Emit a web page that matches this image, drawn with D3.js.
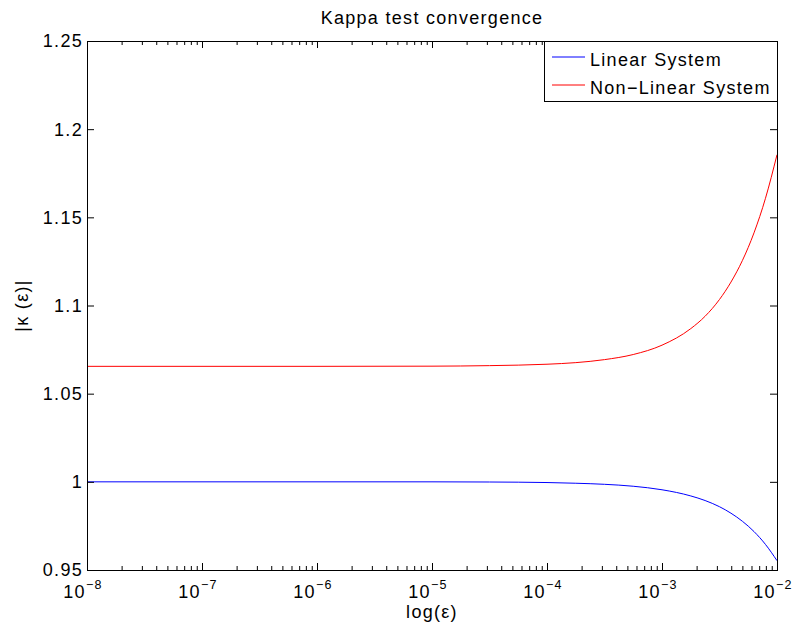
<!DOCTYPE html>
<html>
<head>
<meta charset="utf-8">
<script src="https://cdn.jsdelivr.net/npm/d3@7"></script>
<style>
  html, body { margin: 0; padding: 0; background: #fff; }
  svg { display: block; }
  text { font-family: "Liberation Sans", Arial, Helvetica, sans-serif; fill: #000; }
</style>
</head>
<body>
<svg id="chart" width="800" height="629"></svg>
<script>
// Step sizes used in the kappa test
const epsilon = [1e-8, 1e-7, 1e-6, 1e-5, 3.16e-5, 1e-4, 1.78e-4, 3.16e-4, 5.62e-4,
                 1e-3, 1.78e-3, 2.37e-3, 3.16e-3, 3.98e-3, 5.01e-3, 6.31e-3, 7.94e-3, 1e-2];

// |kappa(eps)| for each system
const kappaLinear = [1.0000, 1.0000, 1.0000, 1.0000, 0.9999, 0.9996, 0.9992, 0.9986, 0.9975,
                     0.9955, 0.9920, 0.9894, 0.9859, 0.9822, 0.9776, 0.9718, 0.9645, 0.9553];
const kappaNonLinear = [1.0655, 1.0655, 1.0655, 1.0656, 1.0659, 1.0667, 1.0676, 1.0693, 1.0722,
                        1.0775, 1.0869, 1.0939, 1.1034, 1.1133, 1.1256, 1.1412, 1.1608, 1.1855];

const seriesNames = ["Linear System", "Non\u2212Linear System"];
const seriesColors = ["#0000ff", "#ff0000"];

const yTicks = [0.95, 1, 1.05, 1.1, 1.15, 1.2, 1.25];
const yTickLabels = ["0.95", "1", "1.05", "1.1", "1.15", "1.2", "1.25"];
const xExponents = [-8, -7, -6, -5, -4, -3, -2];

const titleText = "Kappa test convergence";
const xLabelText = "log(\u03b5)";
const yLabelText = "|\u03ba (\u03b5)|";

// Layout
const W = 800, H = 629;
const margin = { left: 87, top: 41, right: 23, bottom: 59 };
const innerW = W - margin.left - margin.right;
const innerH = H - margin.top - margin.bottom;
const FONT = 18, LS = "1.3px";

const svg = d3.select("#chart");

const x = d3.scaleLog().domain([1e-8, 1e-2]).range([0, innerW]);
const y = d3.scaleLinear().domain([0.95, 1.25]).range([innerH, 0]);

const g = svg.append("g").attr("transform", `translate(${margin.left},${margin.top})`);

// Plot background
g.append("rect").attr("width", innerW).attr("height", innerH).attr("fill", "#fff");

// Data lines
const series = [kappaLinear, kappaNonLinear];
const line = d3.line()
  .x(d => x(d[0]))
  .y(d => y(d[1]))
  .curve(d3.curveMonotoneX);

series.forEach((vals, i) => {
  g.append("path")
    .datum(epsilon.map((e, j) => [e, vals[j]]))
    .attr("fill", "none")
    .attr("stroke", seriesColors[i])
    .attr("stroke-width", 1)
    .attr("d", line);
});

// Tick positions
const majorX = xExponents.map(k => Math.pow(10, k));
const minorX = [];
for (let k = -8; k < -2; k++) {
  for (let m = 2; m <= 9; m++) minorX.push(m * Math.pow(10, k));
}

function styleAxis(sel) {
  sel.select(".domain").remove();
  sel.selectAll(".tick line").attr("stroke", "#000");
}

// Inward ticks on all four sides
g.append("g").attr("transform", `translate(0,${innerH})`)
  .call(d3.axisBottom(x).tickValues(minorX).tickSize(-4).tickFormat(""))
  .call(styleAxis);
g.append("g").attr("transform", `translate(0,${innerH})`)
  .call(d3.axisBottom(x).tickValues(majorX).tickSize(-7).tickFormat(""))
  .call(styleAxis);
g.append("g")
  .call(d3.axisTop(x).tickValues(minorX).tickSize(-4).tickFormat(""))
  .call(styleAxis);
g.append("g")
  .call(d3.axisTop(x).tickValues(majorX).tickSize(-7).tickFormat(""))
  .call(styleAxis);

const yAxis = g.append("g")
  .call(d3.axisLeft(y).tickValues(yTicks).tickSize(-7).tickPadding(4)
    .tickFormat((d, i) => yTickLabels[i]))
  .call(styleAxis);
yAxis.selectAll(".tick text")
  .attr("font-size", FONT)
  .attr("letter-spacing", LS)
  .attr("font-family", "Liberation Sans, Arial, sans-serif")
  .attr("fill", "#000")
  .attr("dy", "0.33em");

g.append("g").attr("transform", `translate(${innerW},0)`)
  .call(d3.axisRight(y).tickValues(yTicks).tickSize(-7).tickFormat(""))
  .call(styleAxis);

// X tick labels as powers of ten
const xl = g.append("g").attr("class", "x-labels");
majorX.forEach((v, i) => {
  const t = xl.append("text")
    .attr("x", x(v) - 4)
    .attr("y", innerH + 28)
    .attr("text-anchor", "middle")
    .attr("font-size", FONT)
    .attr("letter-spacing", LS);
  t.append("tspan").text("10");
  t.append("tspan")
    .attr("dy", -9.5)
    .attr("font-size", 12.5)
    .text("\u2212" + Math.abs(xExponents[i]));
});

// Axes box
g.append("rect")
  .attr("x", 0.5).attr("y", 0.5)
  .attr("width", innerW).attr("height", innerH)
  .attr("fill", "none").attr("stroke", "#000").attr("stroke-width", 1);

// Title and axis labels
svg.append("text")
  .attr("x", margin.left + innerW / 2)
  .attr("y", 24)
  .attr("text-anchor", "middle")
  .attr("font-size", FONT)
  .attr("letter-spacing", LS)
  .text(titleText);

svg.append("text")
  .attr("x", margin.left + innerW / 2)
  .attr("y", 618)
  .attr("text-anchor", "middle")
  .attr("font-size", FONT)
  .attr("letter-spacing", LS)
  .text(xLabelText);

svg.append("text")
  .attr("transform", `translate(28,${margin.top + innerH / 2}) rotate(-90)`)
  .attr("text-anchor", "middle")
  .attr("font-size", FONT)
  .attr("letter-spacing", LS)
  .text(yLabelText);

// Legend
const legend = g.append("g").attr("transform", `translate(${innerW - 233},0)`);
legend.append("rect")
  .attr("x", 0.5).attr("y", 0.5)
  .attr("width", 233).attr("height", 60)
  .attr("fill", "#fff").attr("stroke", "#000").attr("stroke-width", 1);

seriesNames.forEach((name, i) => {
  const ly = 16 + i * 28;
  legend.append("line")
    .attr("x1", 8).attr("x2", 41)
    .attr("y1", ly).attr("y2", ly)
    .attr("stroke", seriesColors[i]).attr("stroke-width", 1);
  legend.append("text")
    .attr("x", 46)
    .attr("y", ly + 8.5)
    .attr("font-size", FONT)
    .attr("letter-spacing", LS)
    .text(name);
});
</script>
</body>
</html>
